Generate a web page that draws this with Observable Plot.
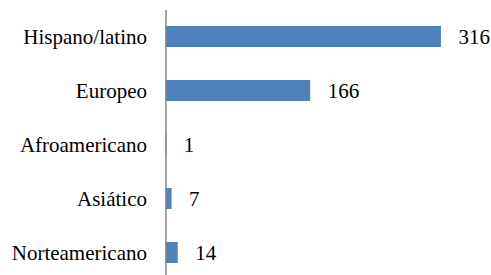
<!DOCTYPE html>
<html>
<head>
<meta charset="utf-8">
<script src="https://cdn.jsdelivr.net/npm/d3@7"></script>
<script src="https://cdn.jsdelivr.net/npm/@observablehq/plot@0.6"></script>
<style>
  html, body { margin: 0; padding: 0; background: #fff; overflow: hidden; }
  #chart svg { display: block; }
</style>
</head>
<body>
<div id="chart"></div>
<script>
const categories = ["Hispano/latino", "Europeo", "Afroamericano", "Asiático", "Norteamericano"];
const values = [316, 166, 1, 7, 14];

const data = categories.map((c, i) => ({category: c, value: values[i]}));
const serif = "Liberation Serif";

const chart = Plot.plot({
  width: 491,
  height: 275,
  marginLeft: 165,
  marginRight: 0,
  marginTop: 10,
  marginBottom: 0,
  x: {domain: [0, 350], range: [165.5, 470.6], axis: null},
  y: {domain: categories, range: [9.5, 279.5], paddingInner: 0.61, paddingOuter: 0.305, axis: null},
  marks: [
    Plot.barX(data, {x: "value", y: "category", fill: "#4F81BD"}),
    Plot.ruleX([0], {stroke: "#868686", strokeWidth: 1.5}),
    Plot.text(data, {x: "value", y: "category", text: d => String(d.value), dx: 17, textAnchor: "start", fontSize: 21, fontFamily: serif, fill: "#000"}),
    Plot.text(data, {x: 0, y: "category", text: "category", dx: -19, textAnchor: "end", fontSize: 21, fontFamily: serif, fill: "#000"})
  ]
});
d3.select(chart).selectAll("text").style("font-family", '"Liberation Serif"');
document.getElementById("chart").appendChild(chart);
d3.select("#chart").append("svg").attr("width", 0).attr("height", 0);
</script>
</body>
</html>
